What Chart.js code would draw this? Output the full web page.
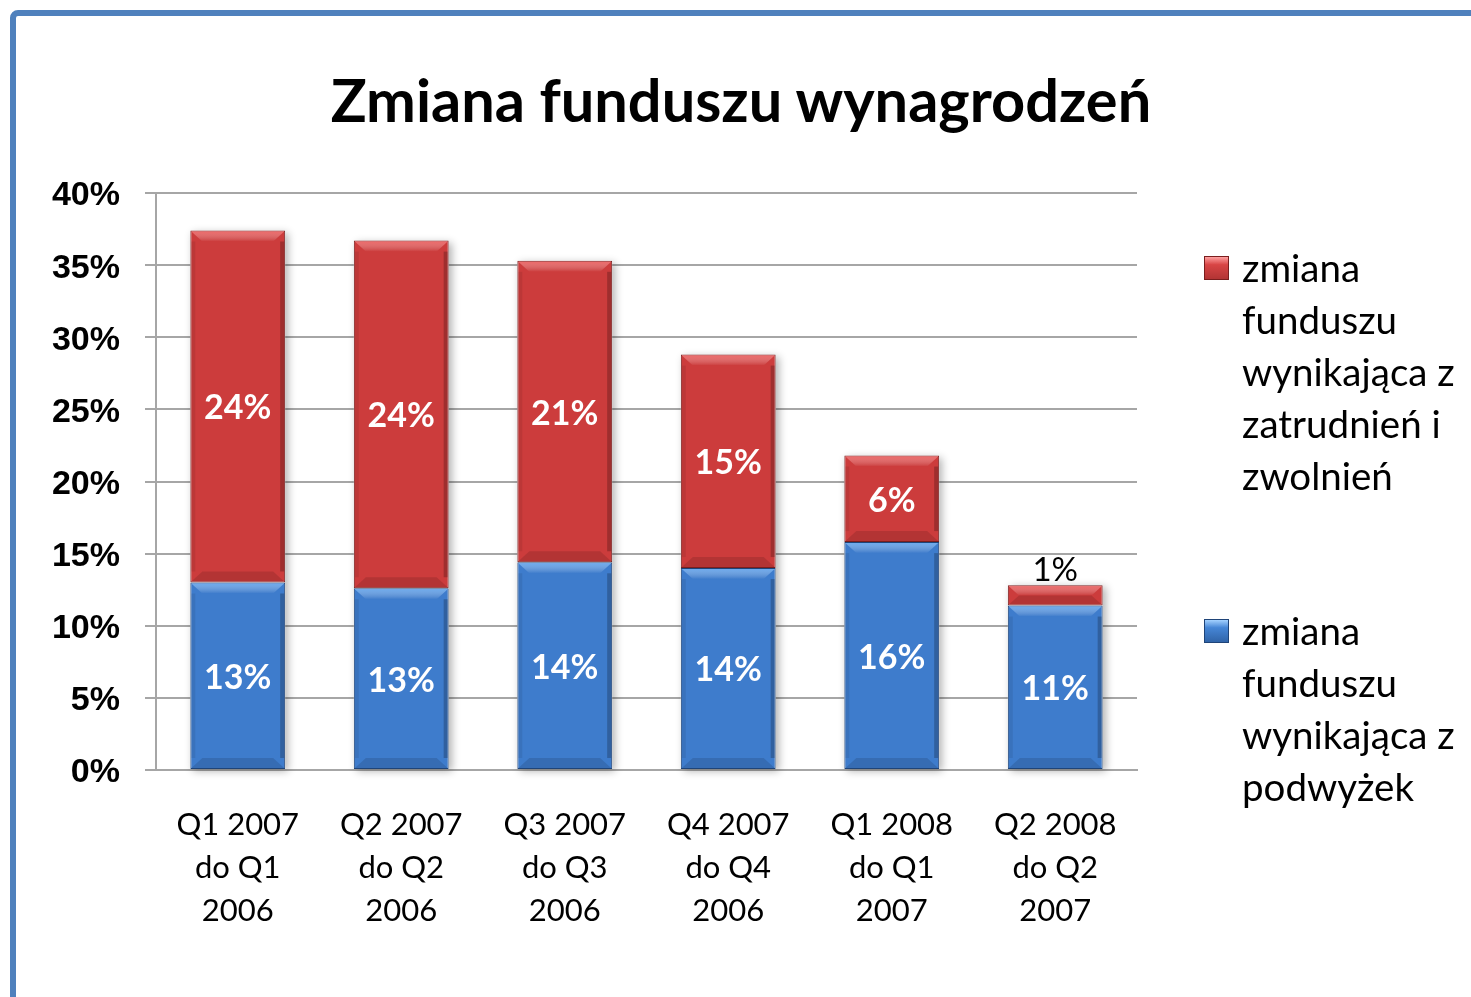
<!DOCTYPE html>
<html>
<head>
<meta charset="utf-8">
<script src="https://cdn.jsdelivr.net/npm/chart.js@4.4.1/dist/chart.umd.min.js"></script>
<style>
  html, body { margin: 0; padding: 0; background: #fff; }
  #wrap { position: relative; width: 1471px; height: 997px; overflow: hidden; background: #fff; }
  #frame { position: absolute; left: 10px; top: 10px; width: 1520px; height: 1100px; border: 6px solid #4F81BD; border-radius: 8px; box-sizing: border-box; }
  #title { position: absolute; left: 0; width: 1482px; top: 64px; text-align: center; font-family: Lato, "Open Sans", sans-serif; font-weight: 700; font-size: 59.5px; line-height: 1.2; color: #000; }
  canvas { position: absolute; left: 0; top: 0; }
  .leg { position: absolute; left: 1242px; width: 228px; font-family: Lato, "Open Sans", sans-serif; font-size: 38.5px; line-height: 52px; color: #000; }
  .mark { position: absolute; left: 1204px; width: 25px; height: 24px; box-sizing: border-box; }
</style>
</head>
<body>
<div id="wrap">
  <div id="frame"></div>
  <div id="title">Zmiana funduszu wynagrodzeń</div>
  <canvas id="c" width="1471" height="997"></canvas>
  <div id="legend"></div>
</div>
<script>
// ---- data ----
const categories = [
  ['Q1 2007', 'do Q1', '2006'],
  ['Q2 2007', 'do Q2', '2006'],
  ['Q3 2007', 'do Q3', '2006'],
  ['Q4 2007', 'do Q4', '2006'],
  ['Q1 2008', 'do Q1', '2007'],
  ['Q2 2008', 'do Q2', '2007']
];
const podwyzki = [13.0, 12.6, 14.4, 14.0, 15.8, 11.4];      // blue, bottom
const zatrudnienia = [24.4, 24.1, 20.9, 14.8, 6.0, 1.4];   // red, top
const yTicks = [0, 5, 10, 15, 20, 25, 30, 35, 40];
const seriesNames = [
  'zmiana funduszu wynikająca z podwyżek',
  'zmiana funduszu wynikająca z zatrudnień i zwolnień'
];

const palette = {
  blue: { body: '#3e7ccc', top: '#4686d6', bottom: '#3064a8', edge: '#1f4478', hi: 'rgba(125,190,255,0.7)' },
  red:  { body: '#cc3c3c', top: '#d84545', bottom: '#b23434', edge: '#7a1e1e', hi: 'rgba(255,120,120,0.7)' }
};

function barGradient(ctx, p) {
  const chart = ctx.chart;
  const el = ctx.element;
  if (!chart.chartArea || !el) return p.body;
  const top = Math.min(el.y, el.base), bot = Math.max(el.y, el.base);
  if (!isFinite(top) || !isFinite(bot) || bot - top < 1) return p.body;
  const g = chart.ctx.createLinearGradient(0, top, 0, bot);
  g.addColorStop(0, p.top);
  g.addColorStop(1, p.bottom);
  return g;
}

// shadow behind each stacked column
const shadowPlugin = {
  id: 'shadowPlugin',
  beforeDatasetsDraw(chart) {
    const ctx = chart.ctx;
    const m0 = chart.getDatasetMeta(0), m1 = chart.getDatasetMeta(1);
    ctx.save();
    m0.data.forEach((el, i) => {
      const top = m1.data[i].y, bot = el.base;
      const w = el.width;
      ctx.shadowColor = 'rgba(0,0,0,0.3)';
      ctx.shadowBlur = 8;
      ctx.shadowOffsetX = 3;
      ctx.shadowOffsetY = 2;
      ctx.fillStyle = '#fff';
      ctx.fillRect(el.x - w / 2, top, w, bot - top);
    });
    ctx.restore();
  }
};

// bevel highlight
const bevelPlugin = {
  id: 'bevelPlugin',
  afterDatasetsDraw(chart) {
    const ctx = chart.ctx;
    ctx.save();
    chart.data.datasets.forEach((ds, di) => {
      const p = di === 0 ? palette.blue : palette.red;
      chart.getDatasetMeta(di).data.forEach((el) => {
        const l = el.x - el.width / 2, r = el.x + el.width / 2;
        const t = el.y, b = el.base;
        const h = b - t;
        const d = Math.min(11, h / 2);
        // top bevel (fading)
        const g = ctx.createLinearGradient(0, t, 0, t + d);
        g.addColorStop(0, p.hi);
        g.addColorStop(1, 'rgba(255,255,255,0)');
        ctx.fillStyle = g;
        ctx.beginPath();
        ctx.moveTo(l + 1, t + 1);
        ctx.lineTo(r - 1, t + 1);
        ctx.lineTo(r - 1 - d, t + d);
        ctx.lineTo(l + 1 + d, t + d);
        ctx.closePath();
        ctx.fill();
        // bottom dark band
        ctx.fillStyle = 'rgba(0,0,0,0.12)';
        ctx.beginPath();
        ctx.moveTo(l + 1, b - 1);
        ctx.lineTo(r - 1, b - 1);
        ctx.lineTo(r - 1 - d, b - d);
        ctx.lineTo(l + 1 + d, b - d);
        ctx.closePath();
        ctx.fill();
        // side shading
        ctx.fillStyle = 'rgba(0,0,0,0.08)';
        ctx.fillRect(l + 1, t + d, 4, h - 2 * d);
        ctx.fillStyle = 'rgba(0,0,0,0.22)';
        ctx.fillRect(r - 5, t + d, 4, h - 2 * d);
      });
    });
    ctx.restore();
  }
};

const labelPlugin = {
  id: 'labelPlugin',
  afterDatasetsDraw(chart) {
    const ctx = chart.ctx;
    ctx.save();
    ctx.textAlign = 'center';
    ctx.textBaseline = 'middle';
    chart.data.datasets.forEach((ds, di) => {
      chart.getDatasetMeta(di).data.forEach((el, i) => {
        const v = ds.data[i];
        const txt = Math.round(v) + '%';
        const h = el.base - el.y;
        if (h < 36) {
          ctx.font = '400 33px Lato, "Open Sans", sans-serif';
          ctx.fillStyle = '#000';
          ctx.fillText(txt, el.x, el.y - 15);
        } else {
          ctx.font = '700 34px Lato, "Open Sans", sans-serif';
          ctx.fillStyle = '#fff';
          ctx.fillText(txt, el.x, (el.y + el.base) / 2 + 2);
        }
      });
    });
    ctx.restore();
  }
};

const chart = new Chart(document.getElementById('c'), {
  type: 'bar',
  data: {
    labels: categories,
    datasets: [
      {
        label: seriesNames[0],
        data: podwyzki,
        backgroundColor: (ctx) => barGradient(ctx, palette.blue),
        borderColor: palette.blue.edge,
        borderWidth: 1,
        borderSkipped: false,
        _legendColor: palette.blue
      },
      {
        label: seriesNames[1],
        data: zatrudnienia,
        backgroundColor: (ctx) => barGradient(ctx, palette.red),
        borderColor: palette.red.edge,
        borderWidth: 1,
        borderSkipped: false,
        _legendColor: palette.red
      }
    ]
  },
  options: {
    responsive: false,
    animation: false,
    devicePixelRatio: 1,
    layout: { padding: { left: 0, right: 334, top: 193, bottom: 0 } },
    datasets: { bar: { categoryPercentage: 1.0, barPercentage: 0.58 } },
    plugins: {
      legend: { display: false },
      title: { display: false },
      tooltip: { enabled: false }
    },
    scales: {
      x: {
        stacked: true,
        grid: { display: false, drawTicks: false },
        border: { display: true, color: '#a6a6a6', width: 2 },
        ticks: {
          color: '#000',
          padding: 33,
          maxRotation: 0,
          autoSkip: false,
          font: { family: 'Lato, "Open Sans", sans-serif', size: 31, weight: '400', lineHeight: 1.39 }
        },
        afterFit(scale) { scale.height = 227; }
      },
      y: {
        stacked: true,
        min: 0,
        max: 40,
        afterBuildTicks(scale) { scale.ticks = yTicks.map(v => ({ value: v })); },
        grid: { color: '#a6a6a6', lineWidth: 2, tickLength: 11, drawTicks: true },
        border: { display: true, color: '#a6a6a6', width: 2 },
        ticks: {
          color: '#000',
          padding: 25,
          labelOffset: 3,
          callback: (v) => v + '%',
          font: { family: '"Liberation Sans", Arial, sans-serif', size: 34, weight: '700' }
        },
        afterFit(scale) { scale.width = 156; }
      }
    }
  },
  plugins: [shadowPlugin, bevelPlugin, labelPlugin]
});

// HTML legend built from datasets (red first, as in the original)
const legendTops = [241, 604];
const legend = document.getElementById('legend');
[1, 0].forEach((di, k) => {
  const ds = chart.data.datasets[di];
  const p = ds._legendColor;
  const top = legendTops[k];
  const m = document.createElement('div');
  m.className = 'mark';
  m.style.top = (top + 15) + 'px';
  m.style.background = 'linear-gradient(to bottom, ' + p.hi + ' 0%, ' + p.top + ' 35%, ' + p.bottom + ' 100%)';
  m.style.border = '1px solid ' + p.edge;
  legend.appendChild(m);
  const t = document.createElement('div');
  t.className = 'leg';
  t.style.top = top + 'px';
  t.textContent = ds.label;
  legend.appendChild(t);
});
</script>
</body>
</html>
